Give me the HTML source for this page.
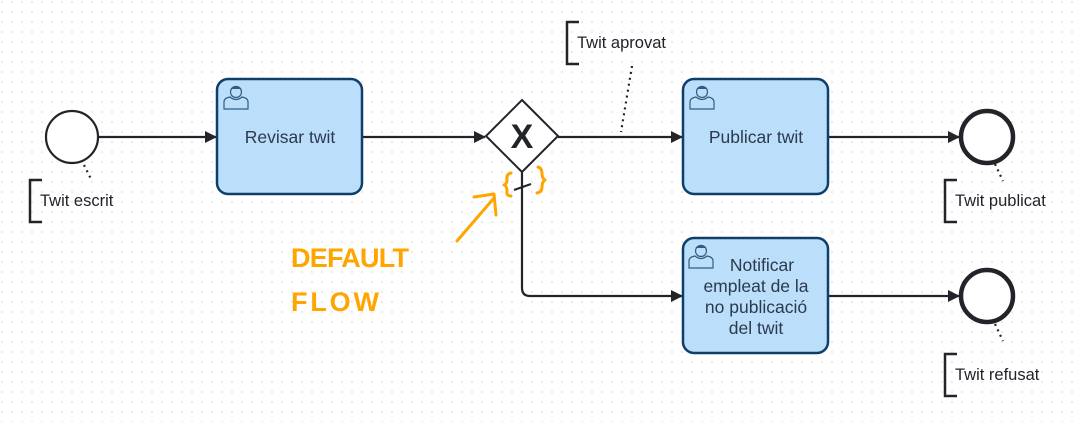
<!DOCTYPE html>
<html><head><meta charset="utf-8"><style>
html,body{margin:0;padding:0;}
body{width:1078px;height:422px;overflow:hidden;background:#fff;
background-image:radial-gradient(circle,#dcdcdc 0.7px,transparent 1px);background-size:10px 10px;background-position:-3px -3px;}
svg{position:absolute;left:0;top:0;}
text{font-family:"Liberation Sans",Arial,sans-serif;}
</style></head><body>
<svg width="1078" height="422" viewBox="0 0 1078 422">
<defs>
<marker id="a" markerWidth="12" markerHeight="12" refX="11" refY="6" orient="auto" markerUnits="userSpaceOnUse">
<path d="M0,0 L12,6 L0,12 Z" fill="#22242a"/></marker>
<g id="user" fill="none" stroke="#2f5d85" stroke-width="1.2">
<circle cx="0" cy="-5" r="5.5"/>
<path d="M-12,12 L-12,5 Q-12,1 -6,0 Q0,5 6,0 Q12,1 12,5 L12,12 Z"/>
<path d="M-5,-8 Q0,-13 5,-8" fill="#2f5d85"/>
</g>
</defs>
<g stroke="#22242a" stroke-width="2.2" fill="none">
<line x1="98" y1="137" x2="216" y2="137" marker-end="url(#a)"/>
<line x1="362" y1="137" x2="485" y2="137" marker-end="url(#a)"/>
<line x1="558" y1="137" x2="682" y2="137" marker-end="url(#a)"/>
<line x1="828" y1="137" x2="959" y2="137" marker-end="url(#a)"/>
<path d="M522,172 L522,288 Q522,296 530,296 L682,296" marker-end="url(#a)"/>
<line x1="828" y1="296" x2="959" y2="296" marker-end="url(#a)"/>
<line x1="514" y1="190" x2="531" y2="184" stroke-width="2"/>
</g>
<g stroke="#22242a" stroke-width="2.2" stroke-dasharray="2,4" fill="none">
<line x1="84" y1="165" x2="92" y2="181"/>
<line x1="632" y1="66" x2="621" y2="132"/>
<line x1="995" y1="164" x2="1003" y2="181"/>
<line x1="995" y1="324" x2="1003" y2="341"/>
</g>
<circle cx="72" cy="137" r="26" fill="#fff" stroke="#22242a" stroke-width="2.2"/>
<circle cx="987" cy="137" r="26" fill="#fff" stroke="#22242a" stroke-width="4.5"/>
<circle cx="987" cy="296" r="26" fill="#fff" stroke="#22242a" stroke-width="4.5"/>
<path d="M522,100 L558,136 L522,172 L486,136 Z" fill="#fff" stroke="#22242a" stroke-width="2"/>
<text x="522" y="148" font-size="34" font-weight="bold" text-anchor="middle" fill="#22242a">X</text>
<g fill="#bbdefb" stroke="#0e3f6b" stroke-width="2.5">
<rect x="217" y="79" width="145" height="115" rx="11"/>
<rect x="683" y="79" width="145" height="115" rx="11"/>
<rect x="683" y="238" width="145" height="115" rx="11"/>
</g>
<use href="#user" x="236" y="97"/>
<use href="#user" x="702" y="97"/>
<use href="#user" x="701" y="256"/>
<g fill="#2b3a4d" font-size="17.5" text-anchor="middle">
<text x="290" y="143">Revisar twit</text>
<text x="756" y="143">Publicar twit</text>
<text x="762" y="271">Notificar</text>
<text x="756" y="292">empleat de la</text>
<text x="756" y="313">no publicació</text>
<text x="756" y="334">del twit</text>
</g>
<g fill="none" stroke="#22242a" stroke-width="2.5">
<path d="M42,180 L30,180 L30,222 L42,222"/>
<path d="M579,22 L567,22 L567,64 L579,64"/>
<path d="M957,180 L945,180 L945,222 L957,222"/>
<path d="M957,354 L945,354 L945,396 L957,396"/>
</g>
<g fill="#22242a" font-size="16.5">
<text x="40" y="206">Twit escrit</text>
<text x="577" y="48">Twit aprovat</text>
<text x="955" y="206">Twit publicat</text>
<text x="955" y="380">Twit refusat</text>
</g>
<g fill="none" stroke="#ffa500" stroke-width="3" stroke-linecap="round" stroke-linejoin="round">
<path d="M511,173 Q506,174 507,180 Q507,184 504,185 Q507,186 507,191 Q506,196 511,196"/>
<path d="M538,167 Q542,168 542,174 Q542,178 545,180 Q542,182 542,187 Q542,192 537,193"/>
<path d="M457,241 L494,198"/>
<path d="M474,197 L494,194 L496,215"/>
</g>
<g fill="#ffa500" font-size="27" font-weight="bold">
<text x="291" y="267" textLength="118">DEFAULT</text>
<text x="291" y="311" textLength="88">FLOW</text>
</g>
</svg>
</body></html>
